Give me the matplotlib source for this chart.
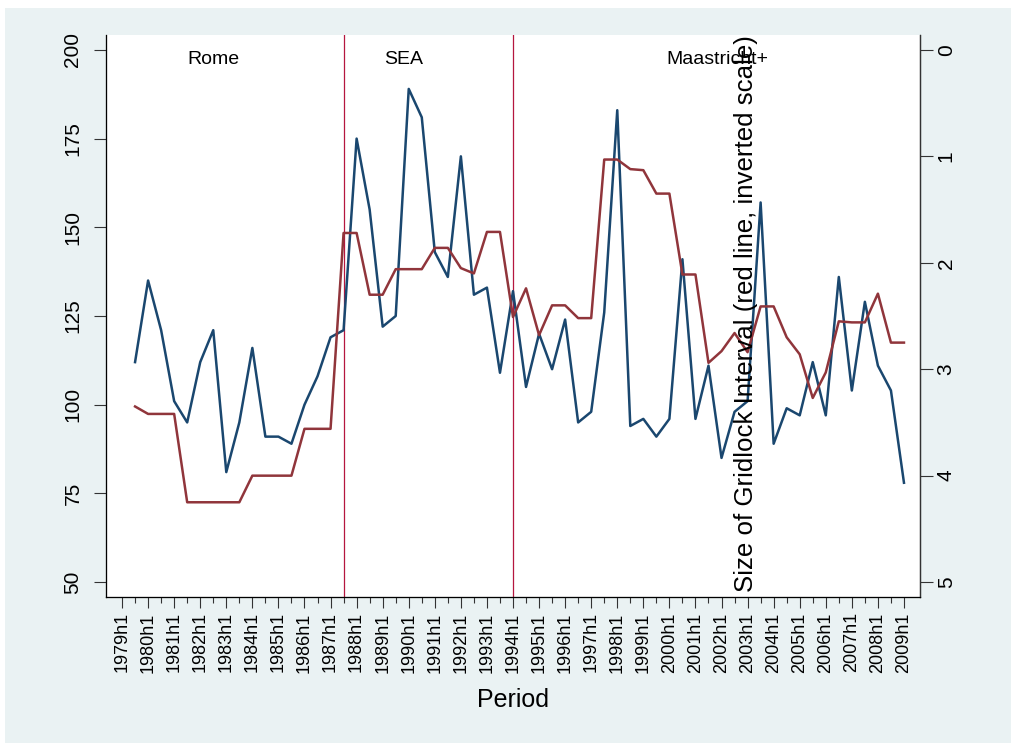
import matplotlib
matplotlib.use("Agg")
import matplotlib.pyplot as plt
from matplotlib.patches import Rectangle

plt.rcParams['font.family'] = ['Liberation Sans', 'DejaVu Sans']

# --- data: half-year periods, 1979h2 .. 2009h1 ---
years = list(range(1979, 2010))
periods = [f"{y}h{h}" for y in years for h in (1, 2)][1:-1]

# blue line, left axis
gridlock_size = [
    112, 135, 121, 101, 95, 112, 121, 81, 95, 116,
    91, 91, 89, 100, 108, 119, 121, 175, 155, 122,
    125, 189, 181, 143, 136, 170, 131, 133, 109, 132,
    105, 120, 110, 124, 95, 98, 126, 183, 94, 96,
    91, 96, 141, 96, 111, 85, 98, 101, 157, 89,
    99, 97, 112, 97, 136, 104, 129, 111, 104, 78,
]

# red line, right axis (inverted)
gridlock_interval = [
    3.35, 3.42, 3.42, 3.42, 4.25, 4.25, 4.25, 4.25, 4.25, 4.0,
    4.0, 4.0, 4.0, 3.56, 3.56, 3.56, 1.72, 1.72, 2.3, 2.3,
    2.06, 2.06, 2.06, 1.86, 1.86, 2.05, 2.1, 1.71, 1.71, 2.51,
    2.24, 2.68, 2.40, 2.40, 2.52, 2.52, 1.03, 1.03, 1.12, 1.13,
    1.35, 1.35, 2.11, 2.11, 2.94, 2.83, 2.66, 2.84, 2.41, 2.41,
    2.70, 2.86, 3.27, 3.03, 2.55, 2.56, 2.56, 2.29, 2.75, 2.75,
]

eras = ["Rome", "SEA", "Maastricht+"]
era_breaks = ["1987h2", "1994h1"]

left_ticks = [50, 75, 100, 125, 150, 175, 200]
right_ticks = [0, 1, 2, 3, 4, 5]

# --- layout ---
W, H = 1011, 743
BG = "#EAF2F3"
BLUE = "#1A476F"
RED = "#90353B"
VLINE = "#B5163F"
AX = "#333333"

fig = plt.figure(figsize=(W / 100, H / 100), dpi=100, facecolor="white")
fig.patches.append(Rectangle((5 / W, 0), 1, 1 - 8 / H, transform=fig.transFigure,
                             facecolor=BG, edgecolor="none", zorder=-10))

L, R, T, B = 106, 920, 35, 597
ax = fig.add_axes([L / W, 1 - B / H, (R - L) / W, (B - T) / H])
ax.set_facecolor("white")

# map "YYYYhN" to half-year index from 1979h1
def hidx(p):
    y, h = p.split("h")
    return (int(y) - 1979) * 2 + int(h) - 1

x = [hidx(p) for p in periods]

ax.plot(x, gridlock_size, color=BLUE, lw=1.8, zorder=3)
for b in era_breaks:
    ax.axvline(hidx(b), color=VLINE, lw=0.9, zorder=2)

ax.set_xlim(-1.23, 61.23)
ax.set_ylim(45.8, 204.2)
ax.set_yticks(left_ticks)
ax.tick_params(axis="y", labelsize=15, length=9, width=0.8, color=AX,
               pad=8, labelrotation=90)
for lab in ax.get_yticklabels():
    lab.set_va("center")

major = list(range(0, 61, 2))
ax.set_xticks(major)
ax.set_xticklabels([f"{1979 + i // 2}h1" for i in major], rotation=90)
ax.set_xticks(list(range(1, 61, 2)), minor=True)
ax.tick_params(axis="x", which="major", labelsize=13, length=8, width=0.8,
               color=AX, pad=3)
ax.tick_params(axis="x", which="minor", length=4, width=0.8, color=AX)
ax.set_xlabel("Period", fontsize=18, labelpad=11)

ax.spines["top"].set_visible(False)
for s in ("left", "bottom", "right"):
    ax.spines[s].set_color(AX)
    ax.spines[s].set_linewidth(0.9)

# right axis, inverted scale
ax2 = ax.twinx()
ax2.plot(x, gridlock_interval, color=RED, lw=1.8, zorder=3)
ax2.set_ylim((200 - 45.8) / 30, (200 - 204.2) / 30)
ax2.set_yticks(right_ticks)
ax2.tick_params(axis="y", labelsize=15, length=9, width=0.8, color=AX,
                pad=3, labelrotation=90)
for lab in ax2.get_yticklabels():
    lab.set_va("center")
ax2.spines["top"].set_visible(False)
ax2.spines["right"].set_color(AX)
ax2.spines["right"].set_linewidth(0.9)

# era labels
for name, xp in zip(eras, [7.0, 21.6, 45.7]):
    ax.text(xp, 197.2, name, ha="center", va="center", fontsize=14, zorder=4)

fig.text(746 / W, 1 - 314 / H, "Size of Gridlock Interval (red line, inverted scale)",
         rotation=90, ha="center", va="center", fontsize=18.6)

fig.savefig("out.png", dpi=100, facecolor=fig.get_facecolor())
